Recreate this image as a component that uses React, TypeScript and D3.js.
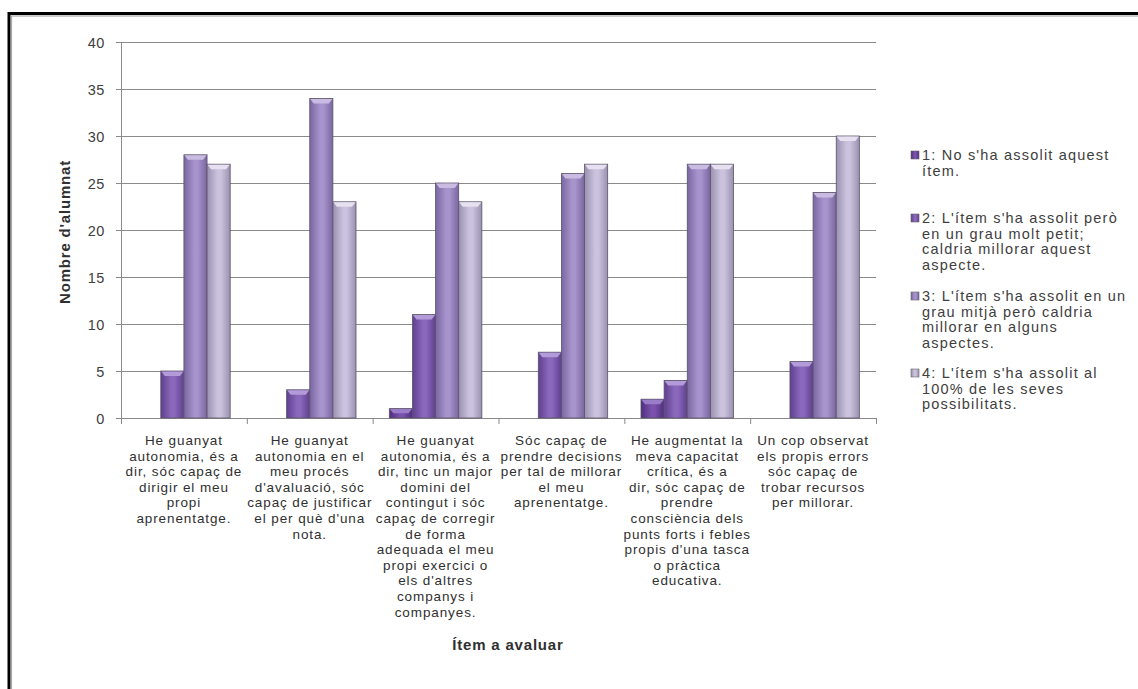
import React from "react";
import * as d3 from "d3";

// category labels, already broken into lines as in the original chart
const categories: string[][] = [
  ["He guanyat", "autonomia, és a", "dir, sóc capaç de", "dirigir el meu", "propi", "aprenentatge."],
  ["He guanyat", "autonomia en el", "meu procés", "d'avaluació, sóc", "capaç de justificar", "el per què d'una", "nota."],
  ["He guanyat", "autonomia, és a", "dir, tinc un major", "domini del", "contingut i sóc", "capaç de corregir", "de forma", "adequada el meu", "propi exercici o", "els d'altres", "companys i", "companyes."],
  ["Sóc capaç de", "prendre decisions", "per tal de millorar", "el meu", "aprenentatge."],
  ["He augmentat la", "meva capacitat", "crítica, és a", "dir, sóc capaç de", "prendre", "consciència dels", "punts forts i febles", "propis d'una tasca", "o pràctica", "educativa."],
  ["Un cop observat", "els propis errors", "sóc capaç de", "trobar recursos", "per millorar."],
];

const seriesLabels: string[][] = [
  ["1: No s'ha assolit aquest", "ítem."],
  ["2: L'ítem s'ha assolit però", "en un grau molt petit;", "caldria millorar aquest", "aspecte."],
  ["3: L'ítem s'ha assolit en un", "grau mitjà però caldria", "millorar en alguns", "aspectes."],
  ["4: L'ítem s'ha assolit al", "100% de les seves", "possibilitats."],
];

const series1 = [0, 0, 1, 0, 2, 0];
const series2 = [5, 3, 11, 7, 4, 6];
const series3 = [28, 34, 25, 26, 27, 24];
const series4 = [27, 23, 23, 27, 27, 30];

const yTicks = [0, 5, 10, 15, 20, 25, 30, 35, 40];

const seriesColors = [
  { edge: "#4f2d7c", mid: "#7a52ad", cap: "#9a7cc8" },
  { edge: "#5f3f8f", mid: "#8a68bb", cap: "#b39ad8" },
  { edge: "#7a66a0", mid: "#a894cc", cap: "#c9bbe2" },
  { edge: "#9a90b0", mid: "#cbc3dd", cap: "#e6e0f0" },
];

const FONT = "'Liberation Sans', Arial, sans-serif";

const App: React.FC = () => {
  const allSeries = [series1, series2, series3, series4];
  const left = 121;
  const right = 876;
  const top = 42;
  const bottom = 418;

  const x = d3
    .scaleBand<number>()
    .domain(categories.map((_, i) => i))
    .range([left, right])
    .padding(0);

  const xs = d3
    .scaleBand<number>()
    .domain(allSeries.map((_, i) => i))
    .range([0, x.bandwidth()])
    .paddingInner(0)
    .paddingOuter(0.72);

  const y = d3.scaleLinear().domain([0, 40]).range([bottom, top]);

  const lineH = 15.6;

  return (
    <svg
      width={1138}
      height={689}
      style={{ position: "absolute", left: 0, top: 0, background: "#fff" }}
      fontFamily={FONT}
    >
      <defs>
        {seriesColors.map((c, i) => (
          <linearGradient key={i} id={`g${i}`} x1="0" x2="1" y1="0" y2="0">
            <stop offset="0" stopColor={c.edge} />
            <stop offset="0.45" stopColor={c.mid} />
            <stop offset="0.6" stopColor={c.mid} />
            <stop offset="1" stopColor={c.edge} />
          </linearGradient>
        ))}
      </defs>

      {/* outer frame */}
      <rect x={9} y={13.5} width={1140} height={690} fill="none" stroke="#000" strokeWidth={3} />
      <rect x={11.5} y={16} width={1140} height={690} fill="none" stroke="#aaa" strokeWidth={1.2} />

      {/* gridlines */}
      {yTicks.map((t) => (
        <line key={t} x1={left} x2={right} y1={y(t) + 0.5} y2={y(t) + 0.5} stroke="#8a8a8a" strokeWidth={1} />
      ))}
      {/* y axis */}
      <line x1={left + 0.5} x2={left + 0.5} y1={top} y2={bottom} stroke="#8a8a8a" />
      {yTicks.map((t) => (
        <g key={`yt${t}`}>
          <line x1={left - 5} x2={left} y1={y(t) + 0.5} y2={y(t) + 0.5} stroke="#8a8a8a" />
          <text x={left - 16} y={y(t) + 5.5} textAnchor="end" fontSize={14.5} letterSpacing={0.6} fill="#404040">
            {t}
          </text>
        </g>
      ))}
      {/* x axis ticks */}
      {categories.map((_, i) => (
        <line key={`xt${i}`} x1={(x(i) ?? 0) + 0.5} x2={(x(i) ?? 0) + 0.5} y1={bottom} y2={bottom + 6} stroke="#8a8a8a" />
      ))}
      <line x1={right + 0.5} x2={right + 0.5} y1={bottom} y2={bottom + 6} stroke="#8a8a8a" />

      {/* bars */}
      {allSeries.map((vals, s) =>
        vals.map((v, i) => {
          if (v <= 0) return null;
          const bx = (x(i) ?? 0) + (xs(s) ?? 0);
          const bw = xs.bandwidth();
          const by = y(v);
          const bh = bottom - by;
          const cap = Math.min(5, bh / 2);
          return (
            <g key={`b${s}-${i}`}>
              <rect x={bx} y={by} width={bw} height={bh} fill={`url(#g${s})`} stroke="#5a5468" strokeWidth={0.8} />
              <polygon
                points={`${bx + 0.5},${by + 0.5} ${bx + bw - 0.5},${by + 0.5} ${bx + bw - 4},${by + cap} ${bx + 4},${by + cap}`}
                fill={seriesColors[s].cap}
              />
            </g>
          );
        })
      )}

      {/* category labels */}
      {categories.map((lines, i) => (
        <text
          key={`cl${i}`}
          x={(x(i) ?? 0) + x.bandwidth() / 2}
          y={445}
          textAnchor="middle"
          fontSize={13.5}
          letterSpacing={0.9}
          fill="#303030"
        >
          {lines.map((l, k) => (
            <tspan key={k} x={(x(i) ?? 0) + x.bandwidth() / 2} dy={k === 0 ? 0 : lineH}>
              {l}
            </tspan>
          ))}
        </text>
      ))}

      {/* axis titles */}
      <text
        transform={`translate(70,${(top + bottom) / 2 + 2}) rotate(-90)`}
        textAnchor="middle"
        fontSize={15}
        letterSpacing={0.8}
        fontWeight="bold"
        fill="#303030"
      >
        Nombre d'alumnat
      </text>
      <text x={508} y={650} textAnchor="middle" fontSize={15} letterSpacing={0.8} fontWeight="bold" fill="#303030">
        Ítem a avaluar
      </text>

      {/* legend */}
      {seriesLabels.map((lines, s) => {
        const starts = [160, 223, 301, 378];
        const ly = starts[s];
        return (
          <g key={`lg${s}`}>
            <rect x={911} y={ly - 9} width={8} height={8} fill={`url(#g${s})`} stroke="#666" strokeWidth={0.6} />
            <text x={922} y={ly} fontSize={14.5} letterSpacing={1.2} fill="#404040">
              {lines.map((l, k) => (
                <tspan key={k} x={922} dy={k === 0 ? 0 : lineH}>
                  {l}
                </tspan>
              ))}
            </text>
          </g>
        );
      })}
    </svg>
  );
};

export default App;
